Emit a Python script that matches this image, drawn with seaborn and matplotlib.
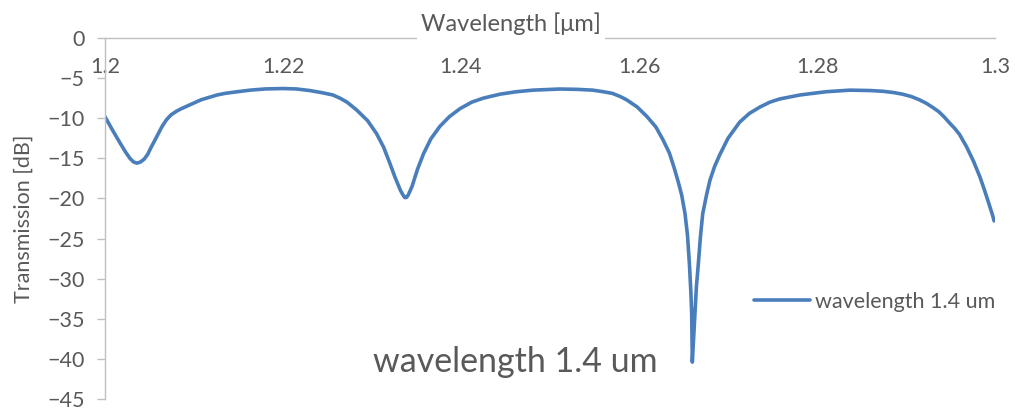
import matplotlib
matplotlib.use("Agg")
import matplotlib.pyplot as plt
import seaborn as sns
import pandas as pd

# ---- data ----
wavelength_um = [
    1.2000, 1.2008, 1.2017, 1.2023, 1.2028, 1.2032, 1.2036, 1.2040, 1.2044, 1.2048,
    1.2051, 1.2056, 1.2060, 1.2064, 1.2069, 1.2074, 1.2080, 1.2085, 1.2092, 1.2100,
    1.2108, 1.2117, 1.2126, 1.2135, 1.2145, 1.2163, 1.2180, 1.2200, 1.2215, 1.2230,
    1.2243, 1.2256, 1.2264, 1.2272, 1.2283, 1.2295, 1.2305, 1.2313, 1.2320, 1.2326,
    1.2332, 1.2335, 1.2337, 1.2339, 1.2341, 1.2345, 1.2351, 1.2358, 1.2366, 1.2376,
    1.2387, 1.2399, 1.2412, 1.2425, 1.2444, 1.2462, 1.2481, 1.2511, 1.2530, 1.2548,
    1.2560, 1.2570, 1.2579, 1.2586, 1.2598, 1.2609, 1.2619, 1.2627, 1.2634, 1.2639,
    1.26440, 1.26480, 1.26517, 1.26545, 1.26566, 1.26582, 1.26592, 1.26599, 1.26629,
    1.26645, 1.26667, 1.26690, 1.26716, 1.26760, 1.26798, 1.2685, 1.2691, 1.2700,
    1.2713, 1.2724, 1.2736, 1.2747, 1.2758, 1.2781, 1.2810, 1.2837, 1.2860, 1.2875,
    1.2886, 1.2896, 1.2906, 1.2915, 1.2923, 1.2930, 1.2937, 1.2943, 1.2949, 1.2955,
    1.2960, 1.2968, 1.2976, 1.2983, 1.2988, 1.2993, 1.2997, 1.2999, 1.3000,
]
transmission_db = [
    -9.8, -11.4, -13.1, -14.2, -15.0, -15.45, -15.6, -15.45, -15.1, -14.5,
    -13.8, -12.75, -11.9, -11.05, -10.2, -9.6, -9.15, -8.85, -8.5, -8.1,
    -7.7, -7.4, -7.1, -6.9, -6.75, -6.5, -6.35, -6.3, -6.35, -6.55,
    -6.8, -7.1, -7.5, -8.0, -9.0, -10.3, -11.9, -13.6, -15.6, -17.4,
    -19.0, -19.6, -19.9, -19.85, -19.5, -18.5, -16.4, -14.4, -12.6, -11.05,
    -9.8, -8.8, -8.0, -7.5, -7.0, -6.7, -6.5, -6.36, -6.4, -6.5,
    -6.7, -6.9, -7.3, -7.7, -8.6, -9.8, -11.1, -12.7, -14.3, -16.0,
    -17.9, -19.6, -21.9, -24.6, -28.1, -31.5, -34.3, -40.4, -34.3,
    -31.0, -28.1, -24.8, -21.9, -19.5, -17.7, -16.0, -14.5, -12.5,
    -10.5, -9.4, -8.6, -8.0, -7.6, -7.1, -6.7, -6.5, -6.55, -6.65,
    -6.8, -7.0, -7.3, -7.7, -8.15, -8.65, -9.2, -9.85, -10.6, -11.3,
    -12.0, -13.55, -15.4, -17.3, -18.9, -20.6, -22.0, -22.8, -22.6,
]
series_name = "wavelength 1.4 um"
x_ticks = [1.2, 1.22, 1.24, 1.26, 1.28, 1.3]
x_tick_labels = ["1.2", "1.22", "1.24", "1.26", "1.28", "1.3"]
y_ticks = [0, -5, -10, -15, -20, -25, -30, -35, -40, -45]
x_title = "Wavelength [μm]"
y_title = "Transmission [dB]"
annotation = "wavelength 1.4 um"

# ---- styling ----
sns.set_style("white")
plt.rcParams["font.family"] = ["Lato", "DejaVu Sans"]
TXT = "#595959"
AX = "#BFBFBF"
LINE = "#4A7EBB"

fig = plt.figure(figsize=(10.15, 4.11), dpi=100)
ax = fig.add_axes([105 / 1015, 1 - 399 / 411, 890 / 1015, 361 / 411])

df = pd.DataFrame({"wl": wavelength_um, "t": transmission_db})
sns.lineplot(data=df, x="wl", y="t", ax=ax, color=LINE, linewidth=2.6,
             label=series_name, sort=False, estimator=None)
for ln in ax.lines:
    ln.set_solid_capstyle("round")
    ln.set_solid_joinstyle("round")

ax.set_xlim(1.2, 1.3)
ax.set_ylim(-45, 0)

# x axis drawn at y = 0 (top), ticks pointing down, labels below
ax.spines["bottom"].set_position(("data", 0))
ax.spines["top"].set_visible(False)
ax.spines["right"].set_visible(False)
for s in ("bottom", "left"):
    ax.spines[s].set_color(AX)
    ax.spines[s].set_linewidth(1.0)

ax.set_xticks(x_ticks)
ax.set_xticklabels(x_tick_labels)
ax.set_yticks(y_ticks)
ax.tick_params(axis="x", direction="out", length=4.5, width=1.0, color=AX,
               pad=9, labelsize=15.5, labelcolor=TXT)
ax.tick_params(axis="y", direction="out", length=5.5, width=1.0, color=AX,
               pad=9, labelsize=15.5, labelcolor=TXT, left=True)
ax.set_xlabel("")
ax.set_ylabel(y_title, fontsize=15.5, color=TXT, labelpad=10)

# axis title above the top axis line, with white background
fig.text(511 / 1015, 1 - 24 / 411, x_title, ha="center", va="center",
         fontsize=17, color=TXT,
         bbox=dict(facecolor="white", edgecolor="none", pad=3))

# large annotation
fig.text(515 / 1015, 1 - 362 / 411, annotation, ha="center", va="center",
         fontsize=24.5, color=TXT)

leg = ax.legend(loc="center left", bbox_to_anchor=(754 / 1015, 1 - 302 / 411),
                bbox_transform=fig.transFigure, frameon=False,
                fontsize=15.5, handlelength=2.6, handletextpad=0.25,
                borderaxespad=0, borderpad=0)
for t in leg.get_texts():
    t.set_color(TXT)

fig.savefig("out.png", dpi=100)
